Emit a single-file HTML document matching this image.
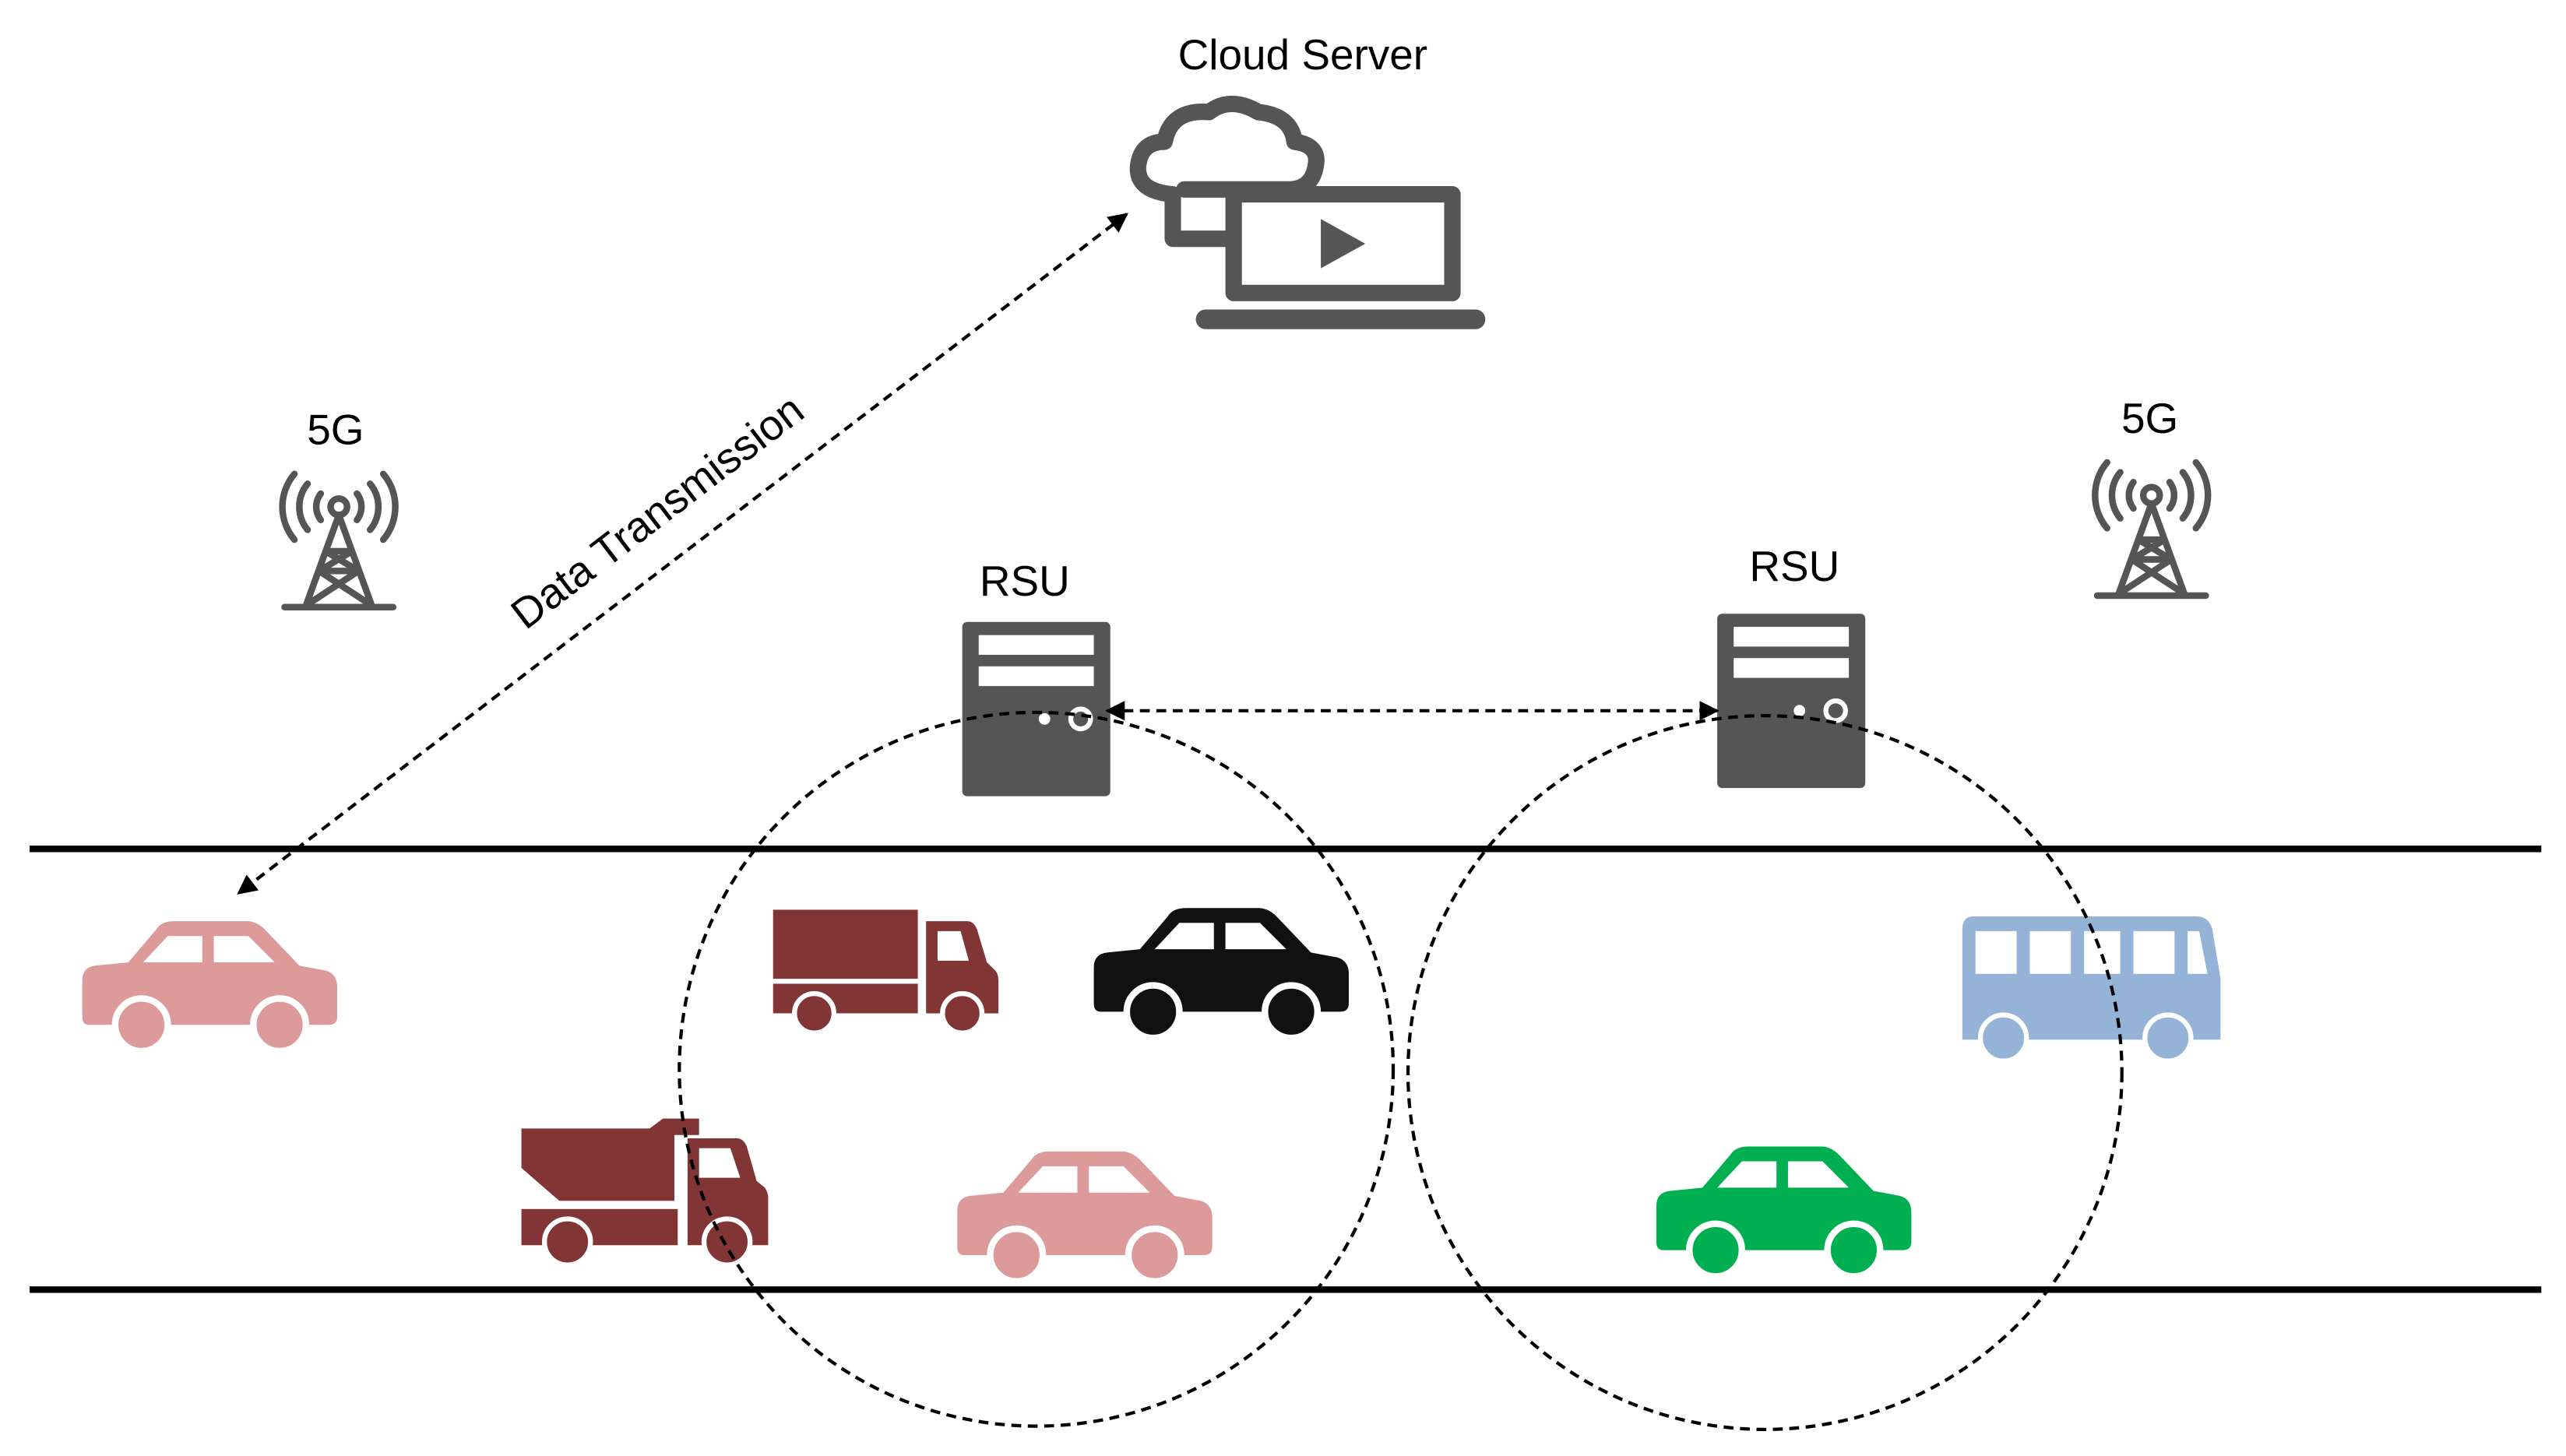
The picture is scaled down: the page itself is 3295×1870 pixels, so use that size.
<!DOCTYPE html>
<html><head><meta charset="utf-8"><style>html,body{margin:0;padding:0;background:#fff}svg{display:block}</style></head>
<body>
<svg width="3295" height="1870" viewBox="0 0 1560 885" xmlns="http://www.w3.org/2000/svg" font-family="Liberation Sans, sans-serif">
<defs>
<marker id="ah" viewBox="0 0 10 10" refX="9" refY="5" markerWidth="6" markerHeight="6" orient="auto-start-reverse"><path d="M0,0 L10,5 L0,10 Z" fill="#000"/></marker>
<symbol id="car" viewBox="0 0 155 80" overflow="visible">
<path fill="currentColor" d="M0,36 Q0,28 8,27 L28,25 L45,5 Q48,0 56,0 L100,0 Q106,0 111,5 L132,27 L148,30 Q155,32 155,40 L155,58 Q155,63 150,63 L4,63 Q0,63 0,58 Z"/>
<path fill="#fff" d="M52,9 L73,9 L73,25 L37,25 Z M80,9 L101,9 L117,25 L80,25 Z"/>
<circle cx="36" cy="63" r="16" fill="currentColor" stroke="#fff" stroke-width="4"/>
<circle cx="120" cy="63" r="16" fill="currentColor" stroke="#fff" stroke-width="4"/>
</symbol>
<symbol id="antenna" viewBox="0 0 76 80" overflow="visible">
<g fill="none" stroke="#555" stroke-width="4" stroke-linecap="round">
<circle cx="38" cy="18" r="5"/>
<path d="M27,10 A13,13 0 0 0 27,26 M49,10 A13,13 0 0 1 49,26 M19,4 A22,22 0 0 0 19,32 M57,4 A22,22 0 0 1 57,32 M11,-2 A31,31 0 0 0 11,38 M65,-2 A31,31 0 0 1 65,38"/>
<path d="M38,23 L18,78 M38,23 L58,78 M5,79 L71,79 M30,45 L46,45 M26,57 L50,57 M30,45 L50,57 M46,45 L26,57 M26,57 L58,78 M50,57 L18,78"/>
</g>
</symbol>
<symbol id="rsu" viewBox="0 0 90 106" overflow="visible">
<rect x="0" y="0" width="90" height="106" rx="3" fill="#555"/>
<rect x="10" y="8" width="70" height="12" fill="#fff"/>
<rect x="10" y="27" width="70" height="12" fill="#fff"/>
<circle cx="50" cy="59" r="3.5" fill="#fff"/>
<circle cx="72" cy="59" r="6" fill="none" stroke="#fff" stroke-width="3"/>
</symbol>
</defs>

<!-- Cloud Server -->
<text x="792" y="42" font-size="26" text-anchor="middle" fill="#000">Cloud Server</text>
<g fill="none" stroke="#555" stroke-width="10" stroke-linejoin="round" stroke-linecap="round">
<path d="M745,145 L713,145 L713,118 Q690,116 692,100 Q694,86 708,86 Q712,66 735,68 Q748,58 765,68 Q785,70 787,86 Q802,88 800,100 Q798,114 785,115 L720,115"/>
<rect x="750" y="118" width="133" height="60"/>
</g>
<path d="M803,133 L830,148 L803,163 Z" fill="#555"/>
<rect x="727" y="188" width="176" height="12" rx="6" fill="#555"/>

<!-- 5G -->
<text x="204" y="270" font-size="26" text-anchor="middle">5G</text>
<use href="#antenna" x="168" y="290" width="76" height="80"/>
<text x="1307" y="263" font-size="26" text-anchor="middle">5G</text>
<use href="#antenna" x="1270" y="283" width="76" height="80"/>

<!-- Data transmission -->
<line x1="685" y1="130" x2="145" y2="543" stroke="#000" stroke-width="2" stroke-dasharray="6,4" marker-start="url(#ah)" marker-end="url(#ah)"/>
<text x="405" y="318" font-size="26" text-anchor="middle" transform="rotate(-37.4 405 318)">Data Transmission</text>

<!-- RSU -->
<text x="623" y="362" font-size="26" text-anchor="middle">RSU</text>
<use href="#rsu" x="585" y="378" width="90" height="106"/>
<text x="1091" y="353" font-size="26" text-anchor="middle">RSU</text>
<use href="#rsu" x="1044" y="373" width="90" height="106"/>
<line x1="673" y1="432" x2="1044" y2="432" stroke="#000" stroke-width="2" stroke-dasharray="6,4" marker-start="url(#ah)" marker-end="url(#ah)"/>

<!-- Road -->
<line x1="18" y1="516" x2="1545" y2="516" stroke="#000" stroke-width="4"/>
<line x1="18" y1="784" x2="1545" y2="784" stroke="#000" stroke-width="4"/>

<!-- Vehicles -->
<use href="#car" x="50" y="560" width="155" height="80" style="color:#dc9a9a"/>
<use href="#car" x="665" y="552" width="155" height="80" style="color:#111"/>
<use href="#car" x="582" y="700" width="155" height="80" style="color:#dc9a9a"/>
<use href="#car" x="1007" y="697" width="155" height="80" style="color:#00b050"/>

<!-- truck -->
<g fill="#823535">
<rect x="470" y="553" width="88" height="42"/>
<rect x="470" y="598" width="88" height="18"/>
<path d="M563,560 L588,560 Q592,560 594,565 L600,585 L605,590 Q607,592 607,596 L607,616 L563,616 Z"/>
</g>
<path d="M570,566 L584,566 L589,584 L570,584 Z" fill="#fff"/>
<circle cx="495" cy="616" r="12" fill="#823535" stroke="#fff" stroke-width="3"/>
<circle cx="585" cy="616" r="12" fill="#823535" stroke="#fff" stroke-width="3"/>

<!-- dump truck -->
<g fill="#823535">
<path d="M317,686 L395,686 L403,680 L425,680 L425,690 L410,690 L410,730 L340,730 L317,710 Z"/>
<rect x="317" y="735" width="95" height="22"/>
<path d="M418,692 L448,692 Q452,692 454,697 L460,718 L465,722 Q467,725 467,728 L467,757 L418,757 Z"/>
</g>
<path d="M425,698 L444,698 L450,716 L425,716 Z" fill="#fff"/>
<circle cx="345" cy="755" r="14" fill="#823535" stroke="#fff" stroke-width="3"/>
<circle cx="442" cy="755" r="14" fill="#823535" stroke="#fff" stroke-width="3"/>

<!-- bus -->
<path d="M1200,557 L1335,557 Q1343,557 1345,565 L1350,595 L1350,632 L1193,632 L1193,565 Q1193,557 1200,557 Z" fill="#95b3d7"/>
<g fill="#fff">
<rect x="1201" y="566" width="25" height="26"/><rect x="1234" y="566" width="25" height="26"/><rect x="1267" y="566" width="22" height="26"/><rect x="1297" y="566" width="25" height="26"/>
<path d="M1330,566 L1337,566 L1342,592 L1330,592 Z"/>
</g>
<circle cx="1218" cy="631" r="14" fill="#95b3d7" stroke="#fff" stroke-width="3"/>
<circle cx="1318" cy="631" r="14" fill="#95b3d7" stroke="#fff" stroke-width="3"/>

<!-- coverage circles -->
<circle cx="630" cy="650" r="217" fill="none" stroke="#000" stroke-width="2" stroke-dasharray="6,4"/>
<circle cx="1073" cy="652" r="217" fill="none" stroke="#000" stroke-width="2" stroke-dasharray="6,4"/>
</svg>
</body></html>
